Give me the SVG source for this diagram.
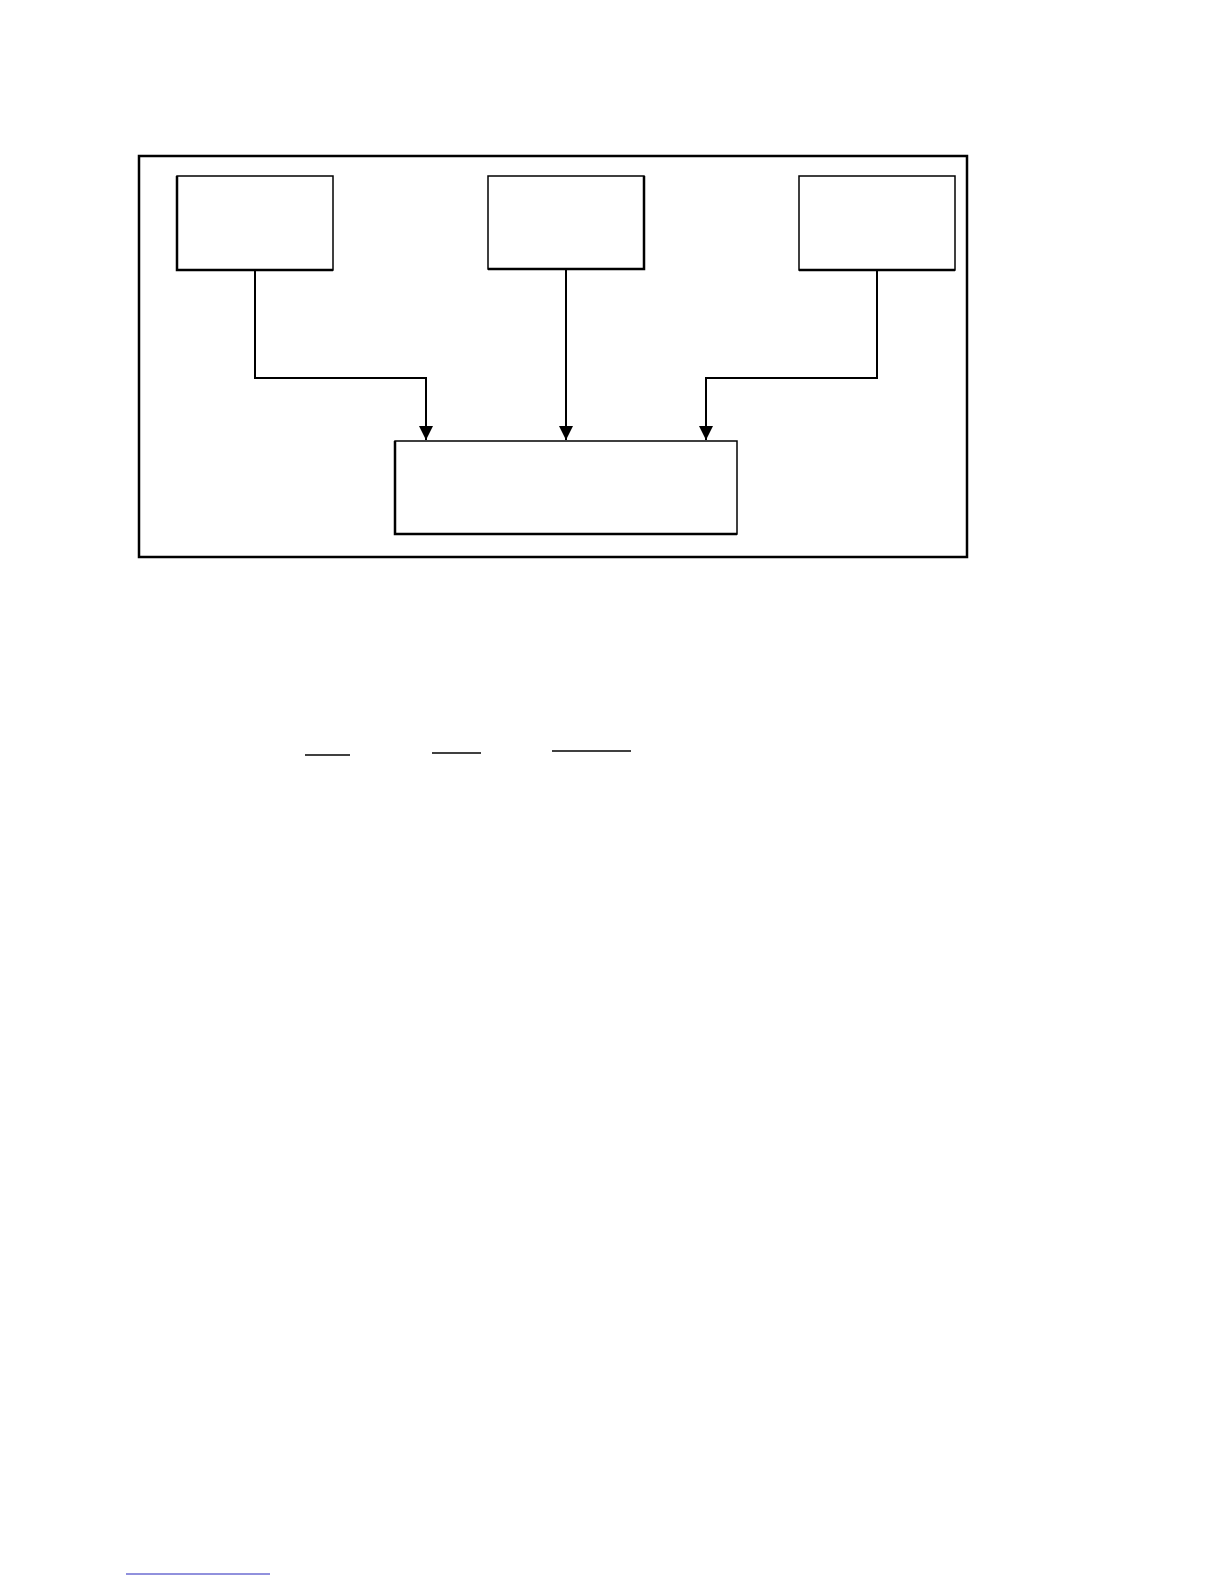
<svg xmlns="http://www.w3.org/2000/svg" width="1224" height="1584" viewBox="0 0 1224 1584">
<defs>
<marker id="arr" markerWidth="14" markerHeight="14" refX="14" refY="7" orient="auto" markerUnits="userSpaceOnUse" viewBox="0 0 14 14">
<path d="M0,0 L14,7 L0,14 Z" fill="#000"/>
</marker>
<style>
.b{fill:#fff;stroke:#000;stroke-width:1.5}
.c{fill:none;stroke:#000;stroke-width:2}
.u{stroke:#000;stroke-width:1.5}
</style>
</defs>
<rect width="1224" height="1584" fill="#fff"/>
<g id="frame"><rect x="139" y="156" width="828" height="401" fill="none" stroke="#000" stroke-width="2.5"/></g>
<g id="box1"><rect class="b" x="177" y="176" width="156" height="94"/><path d="M177,176 V270 H333" fill="none" stroke="#000" stroke-width="2.5"/></g>
<g id="box2"><rect class="b" x="488" y="176" width="156" height="93"/><path d="M488,269 H644 V176" fill="none" stroke="#000" stroke-width="2.5"/></g>
<g id="box3"><rect class="b" x="799" y="176" width="156" height="94"/><path d="M799,270 H955" fill="none" stroke="#000" stroke-width="2.5"/></g>
<g id="box4"><rect class="b" x="395" y="441" width="342" height="93"/><path d="M395,441 V534 H737" fill="none" stroke="#000" stroke-width="2.5"/></g>
<g id="connectors">
<path class="c" d="M255,270 V378 H426 V440" marker-end="url(#arr)"/>
<path class="c" d="M566,269 V440" stroke-width="1.5" marker-end="url(#arr)"/>
<path class="c" d="M877,270 V378 H706 V440" marker-end="url(#arr)"/>
</g>
<g id="underlines">
<line class="u" x1="305" y1="755" x2="350" y2="755"/>
<line class="u" x1="432" y1="753" x2="481" y2="753"/>
<line class="u" x1="552" y1="751" x2="631" y2="751"/>
</g>
<line x1="126" y1="1574" x2="270" y2="1574" stroke="#2222bb" stroke-width="1"/>
</svg>
